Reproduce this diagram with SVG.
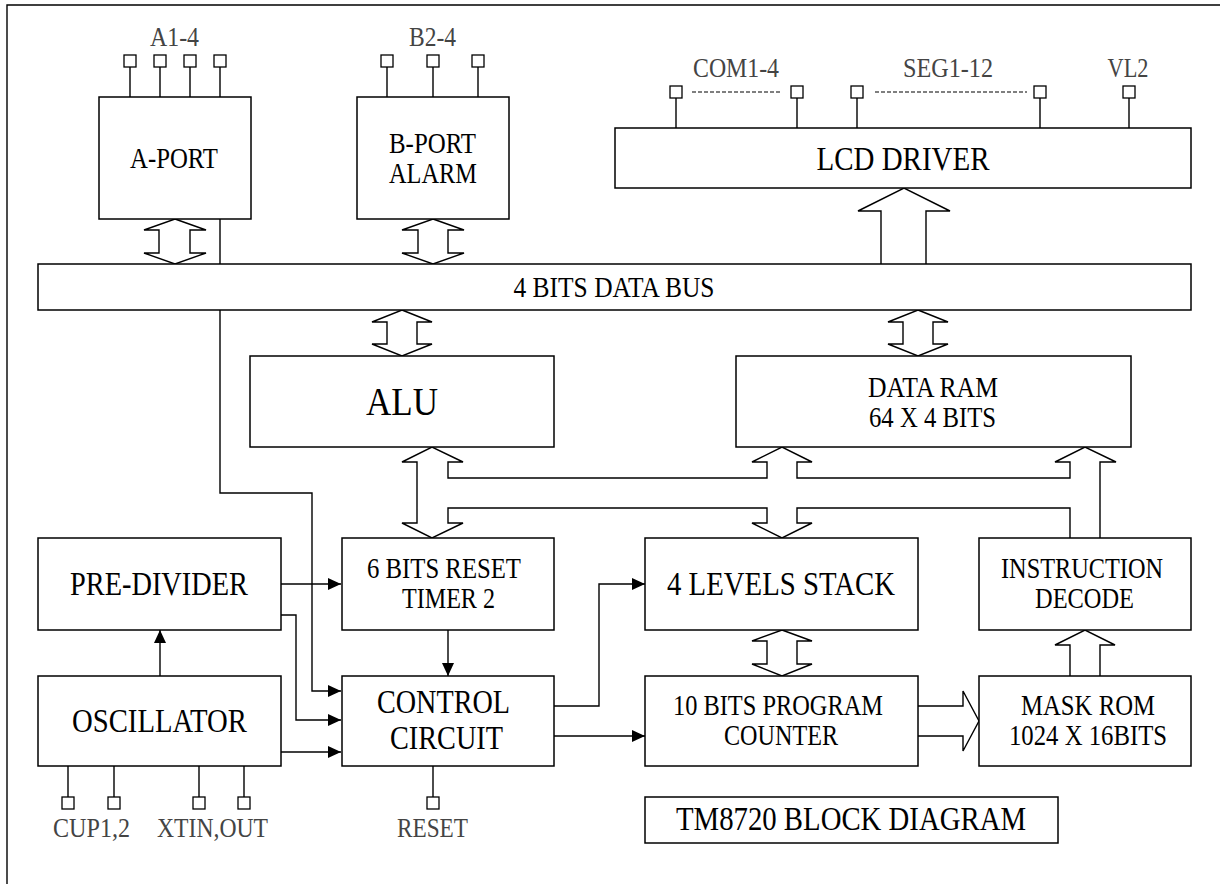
<svg xmlns="http://www.w3.org/2000/svg" width="1220" height="884" viewBox="0 0 1220 884">
<defs>
<style>
.box{fill:#fff;stroke:#000;stroke-width:1.5}
.ln{fill:none;stroke:#000;stroke-width:1.4}
.big{fill:#fff;stroke:#000;stroke-width:1.4;stroke-linejoin:miter}
.pin{fill:#fff;stroke:#000;stroke-width:1.3}
.dot{fill:none;stroke:#000;stroke-width:1.2;stroke-dasharray:4 2}
text{font-family:"Liberation Serif","Times New Roman",serif;fill:#000;text-anchor:middle}
.t{font-size:29px}
.tl{font-size:33px}
.tp{font-size:28px;fill:#444}
</style>
<marker id="ah" markerUnits="userSpaceOnUse" markerWidth="13" markerHeight="12" refX="13" refY="6" orient="auto">
<path d="M0,0 L13,6 L0,12 z" fill="#000"/>
</marker>
</defs>
<rect width="1220" height="884" fill="#fff"/>
<path class="ln" d="M7,884 V5 H1220" stroke-width="1.5"/>

<g id="connectors">
<path class="ln" d="M220,219 V493 H312 V691 H341" marker-end="url(#ah)"/>
<path class="ln" d="M281,584 H341" marker-end="url(#ah)"/>
<path class="ln" d="M281,615 H296 V720 H341" marker-end="url(#ah)"/>
<path class="ln" d="M281,752 H341" marker-end="url(#ah)"/>
<path class="ln" d="M160,676 V630" marker-end="url(#ah)"/>
<path class="ln" d="M448,630 V676" marker-end="url(#ah)"/>
<path class="ln" d="M554,706 H599 V584 H645" marker-end="url(#ah)"/>
<path class="ln" d="M554,736 H645" marker-end="url(#ah)"/>
<polygon class="big" points="175,219 206,230 190,230 190,253 206,253 175,264 144,253 159,253 159,230 144,230"/>
<polygon class="big" points="433,219 464,230 448,230 448,253 464,253 433,264 402,253 418,253 418,230 402,230"/>
<polygon class="big" points="402,310 432,322 417,322 417,344 432,344 402,356 372,344 387,344 387,322 372,322"/>
<polygon class="big" points="918,310 948,322 933,322 933,344 948,344 918,356 888,344 903,344 903,322 888,322"/>
<polygon class="big" points="782,630 812,641 797,641 797,664 812,664 782,676 752,664 767,664 767,641 752,641"/>
<path class="big" d="M881,264 V211 H858 L904,188 L950,211 H926 V264"/>
<path class="big" d="M1070,676 V645 H1055 L1085,630 L1115,645 H1100 V676"/>
<path class="big" d="M918,706 H963 V691 L979,721 L963,751 V736 H918"/>
<path class="ln" d="M1100,538 V462 H1116 L1085,447 L1055,462 H1070 V478 H797 V462 H812 L782,447 L752,462 H767 V478 H448 V462 H463 L432,447 L402,462 H417 V523 H402 L432,538 L463,523 H448 V508 H767 V523 H752 L782,538 L812,523 H797 V508 H1070 V538"/>
</g>

<g id="a-port">
<path class="ln" d="M130,67 V97 M160,67 V97 M190,67 V97 M220,67 V97"/>
<rect class="pin" x="124" y="55" width="12" height="12"/>
<rect class="pin" x="154" y="55" width="12" height="12"/>
<rect class="pin" x="184" y="55" width="12" height="12"/>
<rect class="pin" x="214" y="55" width="12" height="12"/>
<text class="tp" x="174.5" y="46" textLength="49" lengthAdjust="spacingAndGlyphs">A1-4</text>
<rect class="box" x="99" y="97" width="152" height="122"/>
<text class="t" x="174" y="168" textLength="88" lengthAdjust="spacingAndGlyphs">A-PORT</text>
</g>

<g id="b-port">
<path class="ln" d="M387,67 V97 M433,67 V97 M478,67 V97"/>
<rect class="pin" x="381" y="55" width="12" height="12"/>
<rect class="pin" x="427" y="55" width="12" height="12"/>
<rect class="pin" x="472" y="55" width="12" height="12"/>
<text class="tp" x="432.5" y="46" textLength="47" lengthAdjust="spacingAndGlyphs">B2-4</text>
<rect class="box" x="357" y="97" width="152" height="122"/>
<text class="t" x="432.5" y="153" textLength="87" lengthAdjust="spacingAndGlyphs">B-PORT</text>
<text class="t" x="433" y="183" textLength="88" lengthAdjust="spacingAndGlyphs">ALARM</text>
</g>

<g id="lcd-driver">
<path class="ln" d="M676,98 V128 M797,98 V128 M857,98 V128 M1040,98 V128 M1129,98 V128"/>
<path class="dot" d="M692,92 H780 M875,92 H1027"/>
<rect class="pin" x="670" y="86" width="12" height="12"/>
<rect class="pin" x="791" y="86" width="12" height="12"/>
<rect class="pin" x="851" y="86" width="12" height="12"/>
<rect class="pin" x="1034" y="86" width="12" height="12"/>
<rect class="pin" x="1123" y="86" width="12" height="12"/>
<text class="tp" x="736" y="77" textLength="86" lengthAdjust="spacingAndGlyphs">COM1-4</text>
<text class="tp" x="948" y="77" textLength="90" lengthAdjust="spacingAndGlyphs">SEG1-12</text>
<text class="tp" x="1128" y="77" textLength="41" lengthAdjust="spacingAndGlyphs">VL2</text>
<rect class="box" x="615" y="128" width="576" height="60"/>
<text class="tl" x="903" y="170" textLength="173" lengthAdjust="spacingAndGlyphs">LCD DRIVER</text>
</g>

<g id="data-bus">
<rect class="box" x="38" y="264" width="1153" height="46"/>
<text class="t" x="614" y="297" textLength="201" lengthAdjust="spacingAndGlyphs">4 BITS DATA BUS</text>
</g>

<g id="alu">
<rect class="box" x="250" y="356" width="304" height="91"/>
<text x="402" y="415" font-size="41" textLength="72" lengthAdjust="spacingAndGlyphs">ALU</text>
</g>

<g id="data-ram">
<rect class="box" x="736" y="356" width="395" height="91"/>
<text class="t" x="933" y="397" textLength="130" lengthAdjust="spacingAndGlyphs">DATA RAM</text>
<text class="t" x="932.5" y="427" textLength="127" lengthAdjust="spacingAndGlyphs">64 X 4 BITS</text>
</g>

<g id="pre-divider">
<rect class="box" x="38" y="538" width="243" height="92"/>
<text class="tl" x="159" y="595" textLength="178" lengthAdjust="spacingAndGlyphs">PRE-DIVIDER</text>
</g>

<g id="timer">
<rect class="box" x="342" y="538" width="212" height="92"/>
<text class="t" x="444" y="578" textLength="154" lengthAdjust="spacingAndGlyphs">6 BITS RESET</text>
<text class="t" x="448.5" y="608" textLength="93" lengthAdjust="spacingAndGlyphs">TIMER 2</text>
</g>

<g id="stack">
<rect class="box" x="645" y="538" width="273" height="92"/>
<text class="tl" x="781" y="595" textLength="228" lengthAdjust="spacingAndGlyphs">4 LEVELS STACK</text>
</g>

<g id="instruction-decode">
<rect class="box" x="979" y="538" width="212" height="92"/>
<text class="t" x="1082" y="578" textLength="162" lengthAdjust="spacingAndGlyphs">INSTRUCTION</text>
<text class="t" x="1084.5" y="608" textLength="99" lengthAdjust="spacingAndGlyphs">DECODE</text>
</g>

<g id="oscillator">
<rect class="box" x="38" y="676" width="243" height="90"/>
<text class="tl" x="159.5" y="732" textLength="175" lengthAdjust="spacingAndGlyphs">OSCILLATOR</text>
<path class="ln" d="M68,766 V797 M114,766 V797 M199,766 V797 M244,766 V797"/>
<rect class="pin" x="62" y="797" width="12" height="12"/>
<rect class="pin" x="108" y="797" width="12" height="12"/>
<rect class="pin" x="193" y="797" width="12" height="12"/>
<rect class="pin" x="238" y="797" width="12" height="12"/>
<text class="tp" x="91.5" y="837" textLength="77" lengthAdjust="spacingAndGlyphs">CUP1,2</text>
<text class="tp" x="212.5" y="837" textLength="111" lengthAdjust="spacingAndGlyphs">XTIN,OUT</text>
</g>

<g id="control-circuit">
<rect class="box" x="342" y="676" width="212" height="90"/>
<text class="tl" x="443.5" y="713" textLength="133" lengthAdjust="spacingAndGlyphs">CONTROL</text>
<text class="tl" x="446.5" y="749" textLength="113" lengthAdjust="spacingAndGlyphs">CIRCUIT</text>
<path class="ln" d="M433,766 V797"/>
<rect class="pin" x="427" y="797" width="12" height="12"/>
<text class="tp" x="432.5" y="837" textLength="71" lengthAdjust="spacingAndGlyphs">RESET</text>
</g>

<g id="program-counter">
<rect class="box" x="645" y="676" width="273" height="90"/>
<text class="t" x="778" y="715" textLength="210" lengthAdjust="spacingAndGlyphs">10 BITS PROGRAM</text>
<text class="t" x="781" y="745" textLength="114" lengthAdjust="spacingAndGlyphs">COUNTER</text>
</g>

<g id="mask-rom">
<rect class="box" x="979" y="676" width="212" height="90"/>
<text class="t" x="1088" y="715" textLength="134" lengthAdjust="spacingAndGlyphs">MASK ROM</text>
<text class="t" x="1088" y="745" textLength="158" lengthAdjust="spacingAndGlyphs">1024 X 16BITS</text>
</g>

<g id="title">
<rect class="box" x="645" y="797" width="413" height="46"/>
<text class="tl" x="851" y="830" textLength="350" lengthAdjust="spacingAndGlyphs">TM8720 BLOCK DIAGRAM</text>
</g>
</svg>
